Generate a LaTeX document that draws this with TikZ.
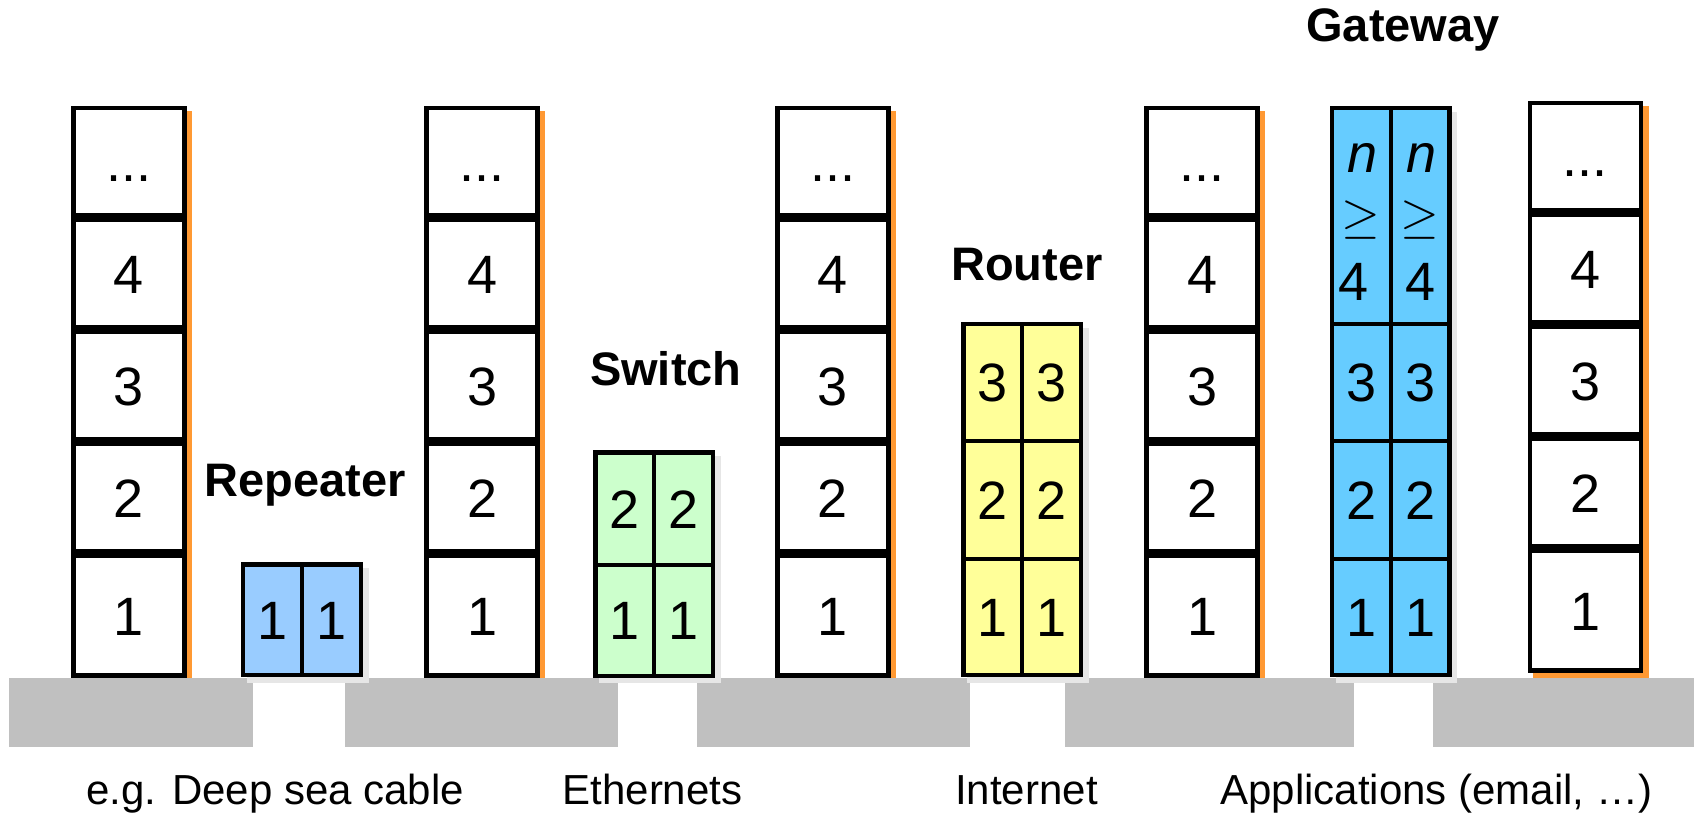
\documentclass[tikz,border=0pt]{standalone}
\usepackage{fontspec}
\setmainfont{Liberation Sans}

\definecolor{groundgray}{HTML}{C0C0C0}
\definecolor{stackshadow}{HTML}{FF9933}
\definecolor{boxshadow}{HTML}{E6E6E6}
\definecolor{repeaterfill}{HTML}{99CCFF}
\definecolor{switchfill}{HTML}{CCFFCC}
\definecolor{routerfill}{HTML}{FFFF99}
\definecolor{gatewayfill}{HTML}{66CCFF}

\newcommand\digitfont{\fontsize{27}{32}\selectfont}
\newcommand\devnamefont{\fontsize{23.5}{28}\selectfont\bfseries}
\newcommand\netnamefont{\fontsize{21}{25}\selectfont}

% one protocol stack: #1 name prefix, #2 centre x, #3 top y
\newcommand\layerstack[3]{%
  \node[layercell] (#1-5) at (#2,{#3+56})  {...};
  \node[layercell] (#1-4) at (#2,{#3+168}) {4};
  \node[layercell] (#1-3) at (#2,{#3+280}) {3};
  \node[layercell] (#1-2) at (#2,{#3+392}) {2};
  \node[bottomcell] (#1-1) at (#2,{#3+510}) {1};
}
% orange edge behind a stack: #1 centre x, #2 top y
\newcommand\stackedge[2]{%
  \fill[stackshadow] ({#1-57.75+5.6},{#2+5}) rectangle ({#1+57.75+5.6},{#2+577});
}

\begin{document}
\begin{tikzpicture}[x=0.5pt,y=-0.5pt,
  layercell/.style={rectangle, draw=black, fill=white, line width=2.3pt,
    inner sep=0pt, outer sep=0pt, minimum width=55.45pt, minimum height=53.7pt,
    text height=19.3pt, text depth=0pt, font=\digitfont},
  bottomcell/.style={layercell, minimum height=59.7pt},
  devcell/.style={rectangle, draw=black, line width=2.1pt, inner sep=0pt,
    outer sep=0pt, minimum width=29.45pt, text height=19.3pt, text depth=0pt,
    font=\digitfont},
  devname/.style={anchor=base, inner sep=0pt, font=\devnamefont},
  netname/.style={anchor=base, inner sep=0pt, font=\netnamefont},
  gwtext/.style={anchor=base, inner sep=0pt, font=\digitfont},
  gwrel/.style={anchor=center, inner sep=0pt, font=\fontsize{27}{32}\selectfont}]

\useasboundingbox (0,0) rectangle (1694,815);
\fill[white] (0,0) rectangle (1694,815);

% orange edges of the end-system stacks
\stackedge{128.75}{105.7}
\stackedge{482.05}{105.7}
\stackedge{832.75}{105.7}
\stackedge{1202.05}{105.7}
\stackedge{1585.45}{100.7}

% network segments
\fill[groundgray] (9,678) rectangle (252.7,747);
\fill[groundgray] (345,678) rectangle (617.7,747);
\fill[groundgray] (697,678) rectangle (970,747);
\fill[groundgray] (1065,678) rectangle (1354,747);
\fill[groundgray] (1433,678) rectangle (1694,747);

% drop shadows of the relay devices
\fill[boxshadow] (246.5,567.8) rectangle (368.5,682.8);
\fill[boxshadow] (598.8,455.8) rectangle (720.8,683.2);
\fill[boxshadow] (966.8,327.5) rectangle (1088.8,682.8);
\fill[boxshadow] (1335.5,111.5) rectangle (1456.8,682.5);

% end-system stacks
\layerstack{s1}{128.75}{105.7}
\layerstack{s2}{482.05}{105.7}
\layerstack{s3}{832.75}{105.7}
\layerstack{s4}{1202.05}{105.7}
\layerstack{s5}{1585.45}{100.7}

% repeater
\node[devcell, fill=repeaterfill, minimum height=55.4pt] (rep-a1) at (272.55,619.8) {1};
\node[devcell, fill=repeaterfill, minimum height=55.4pt] (rep-b1) at (331.45,619.8) {1};

% switch
\node[devcell, fill=switchfill, minimum height=56.3pt] (sw-a2) at (624.85,508.7) {2};
\node[devcell, fill=switchfill, minimum height=56.3pt] (sw-b2) at (683.75,508.7) {2};
\node[devcell, fill=switchfill, minimum height=55.3pt] (sw-a1) at (624.85,620.3) {1};
\node[devcell, fill=switchfill, minimum height=55.3pt] (sw-b1) at (683.75,620.3) {1};

% router
\node[devcell, fill=routerfill, minimum height=58.3pt]  (rt-a3) at (992.85,382.4) {3};
\node[devcell, fill=routerfill, minimum height=58.3pt]  (rt-b3) at (1051.75,382.4) {3};
\node[devcell, fill=routerfill, minimum height=59.15pt] (rt-a2) at (992.85,499.85) {2};
\node[devcell, fill=routerfill, minimum height=59.15pt] (rt-b2) at (1051.75,499.85) {2};
\node[devcell, fill=routerfill, minimum height=58.1pt]  (rt-a1) at (992.85,617.1) {1};
\node[devcell, fill=routerfill, minimum height=58.1pt]  (rt-b1) at (1051.75,617.1) {1};

% gateway
\node[devcell, fill=gatewayfill, minimum height=108.1pt] (gw-an) at (1361.2,216.2) {};
\node[devcell, fill=gatewayfill, minimum height=108.1pt] (gw-bn) at (1420.1,216.2) {};
\node[devcell, fill=gatewayfill, minimum height=58.35pt] (gw-a3) at (1361.2,382.65) {3};
\node[devcell, fill=gatewayfill, minimum height=58.35pt] (gw-b3) at (1420.1,382.65) {3};
\node[devcell, fill=gatewayfill, minimum height=59pt]    (gw-a2) at (1361.2,500) {2};
\node[devcell, fill=gatewayfill, minimum height=59pt]    (gw-b2) at (1420.1,500) {2};
\node[devcell, fill=gatewayfill, minimum height=57.95pt] (gw-a1) at (1361.2,616.95) {1};
\node[devcell, fill=gatewayfill, minimum height=57.95pt] (gw-b1) at (1420.1,616.95) {1};

\node[gwtext] (gw-an1) at (1363,172) {\itshape n};
\node[gwrel]  (gw-an2) at (1361.2,220) {$\geq$};
\node[gwtext] (gw-an3) at (1354,300) {4};
\node[gwtext] (gw-bn1) at (1422,172) {\itshape n};
\node[gwrel]  (gw-bn2) at (1420.1,220) {$\geq$};
\node[gwtext] (gw-bn3) at (1420.1,300) {4};

% device names
\node[devname] (lbl-rep) at (305,496)    {Repeater};
\node[devname] (lbl-sw)  at (665.8,385)  {Switch};
\node[devname] (lbl-rt)  at (1027,280)   {Router};
\node[devname] (lbl-gw)  at (1403,41.7)  {Gateway};

% network names
\node[netname] (net-1) at (275.3,804)  {e.g. Deep sea cable};
\node[netname] (net-2) at (652.5,804)  {Ethernets};
\node[netname] (net-3) at (1026.5,804) {Internet};
\node[netname] (net-4) at (1436.3,804) {Applications (email, …)};

\end{tikzpicture}
\end{document}
